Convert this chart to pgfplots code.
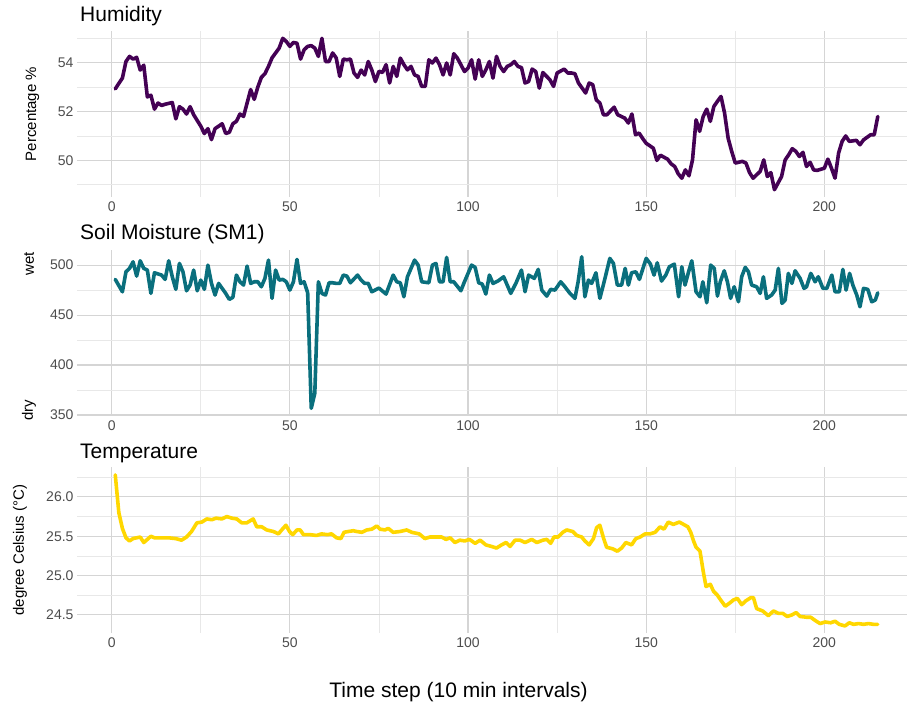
\documentclass[border=0pt]{standalone}
\usepackage{fontspec}
\setmainfont{Liberation Sans}
\usepackage{pgfplots}
\pgfplotsset{compat=1.18}
\usepackage{pgfplotstable}

\definecolor{humcol}{HTML}{440154}
\definecolor{smcol}{HTML}{0A6F7D}
\definecolor{tempcol}{HTML}{FFD700}
\definecolor{gridmaj}{HTML}{D5D5D5}
\definecolor{gridmin}{HTML}{E8E8E8}
\definecolor{tickgray}{HTML}{4D4D4D}

\newcommand{\ticksize}{\fontsize{14bp}{16bp}\selectfont}
\newcommand{\labsize}{\fontsize{15bp}{17bp}\selectfont}
\newcommand{\titlesize}{\fontsize{21bp}{24bp}\selectfont}

% humidity (%)
\pgfplotstableread{
t h
1 52.93
3 53.37
4 54.05
5 54.26
6 54.15
7 54.22
8 53.70
9 53.90
10 52.60
11 52.67
12 52.10
13 52.35
14 52.25
15 52.30
17 52.37
18 51.70
19 52.20
20 52.10
21 51.90
22 52.20
23 51.87
25 51.40
26 51.10
27 51.30
28 50.85
29 51.30
30 51.40
31 51.50
32 51.10
33 51.15
34 51.50
35 51.60
36 51.90
37 51.80
38 52.35
39 52.90
40 52.50
41 53.00
42 53.40
43 53.55
44 53.85
45 54.20
46 54.40
47 54.60
48 55.00
49 54.87
50 54.67
51 54.83
52 54.80
53 54.15
54 54.53
55 54.67
56 54.70
57 54.60
58 54.26
59 55.00
60 54.05
61 54.05
62 54.40
63 54.20
64 53.44
65 54.15
66 54.12
67 54.15
68 53.58
69 53.40
70 53.70
71 53.50
72 54.05
73 53.70
74 53.23
75 53.65
76 53.60
77 53.92
78 53.17
79 53.85
80 53.44
81 54.19
82 53.92
83 53.71
84 53.85
85 53.50
86 53.44
87 53.03
88 53.03
89 54.12
90 53.99
91 54.19
92 53.92
93 53.50
94 53.99
95 53.50
96 54.37
97 54.19
98 53.92
99 53.64
100 53.78
101 54.12
102 53.33
103 54.12
104 53.44
105 53.71
106 54.05
107 53.37
108 54.26
109 53.85
110 53.64
111 53.85
112 53.92
113 54.05
114 53.85
115 53.80
116 53.17
117 53.23
118 53.74
119 53.64
120 52.96
121 53.60
122 53.45
123 53.30
124 53.03
125 53.58
127 53.74
128 53.58
129 53.58
130 53.55
131 53.17
133 52.76
134 53.17
135 53.10
136 52.48
137 52.35
138 51.87
139 51.87
141 52.18
142 51.87
144 51.73
145 51.53
146 51.90
147 51.05
148 51.12
149 50.90
150 50.70
152 50.50
153 50.00
154 50.21
156 50.05
157 49.86
158 49.75
159 49.45
160 49.27
161 49.61
162 49.37
163 50.02
164 51.66
165 51.19
166 51.80
167 52.10
168 51.60
169 52.21
170 52.42
171 52.62
172 51.94
173 50.91
174 50.37
175 49.89
177 49.96
178 49.89
179 49.50
180 49.27
181 49.41
182 49.55
183 50.02
184 49.34
185 49.50
186 48.80
187 49.07
188 49.34
189 50.02
190 50.23
191 50.48
192 50.37
193 50.16
194 50.33
195 49.75
196 49.92
197 49.61
198 49.59
200 49.68
201 50.05
202 49.68
203 49.27
204 50.30
205 50.78
206 51.00
207 50.78
209 50.82
210 50.64
211 50.84
213 51.05
214 51.05
215 51.80
}\humtab

% soil moisture (SM1)
\pgfplotstableread{
t s
1 485.7
3 473.3
4 493.3
5 496.7
6 503.3
7 489.0
8 504.3
9 496.7
10 495.0
11 471.7
12 492.3
14 490.0
15 485.7
16 504.3
17 488.3
18 475.7
19 501.7
20 493.3
21 474.3
22 480.0
23 495.0
24 474.3
25 485.0
26 475.7
27 500.0
28 481.7
29 470.0
30 481.7
31 476.7
32 471.7
33 465.7
34 467.7
35 490.0
36 483.3
37 480.0
38 499.0
39 481.7
40 483.3
41 483.3
42 478.3
43 486.7
44 505.0
45 466.7
46 495.0
47 485.0
48 485.7
49 483.3
50 475.0
51 483.3
52 505.7
53 481.7
54 483.3
55 472.3
56 356.7
57 371.7
58 483.3
59 471.7
60 470.0
61 482.3
62 482.3
63 481.7
64 481.7
65 490.0
66 489.0
67 482.3
69 490.0
70 485.0
71 481.7
72 481.7
73 473.3
75 477.0
77 471.0
79 490.0
80 483.3
81 482.3
82 468.3
83 488.3
85 505.0
86 500.0
87 483.3
89 482.3
90 500.0
91 501.7
92 483.3
93 483.3
94 507.7
95 483.3
96 483.3
98 474.3
99 483.3
101 500.0
102 497.7
103 482.3
104 481.0
105 471.0
106 490.0
107 481.7
108.5 484.3
110 488.3
112 471.7
113.5 482.3
115 495.0
116 473.3
117 490.0
118.6 486.7
119.7 495.7
120.7 475.0
122.1 469.0
123.2 475.7
124.4 475.0
126 483.3
127.2 478.3
128.6 471.7
130 466.7
130.9 483.3
131.9 508.3
132.8 468.3
133.8 485.0
134.7 481.7
135.9 492.3
137 466.7
138.2 483.3
139.8 506.7
140.8 501.7
141.9 480.0
143.1 480.0
144.1 496.7
145 480.0
145.9 492.3
147.1 493.3
148.1 485.7
150 506.7
151.2 501.0
152.2 490.0
153.1 502.3
154.3 484.0
155.5 490.0
156.5 498.3
157.9 501.0
159.1 468.3
160 498.3
160.9 480.0
161.9 493.3
162.8 504.3
164 473.3
165.1 468.3
165.9 483.3
167 462.3
168.1 500.0
169.1 496.7
170 469.0
170.8 483.3
171.9 494.3
172.8 483.3
173.7 466.7
174.7 478.3
175.9 463.3
176.8 488.3
177.8 497.7
178.7 493.3
179.6 480.0
181 478.3
182 471.7
182.9 488.3
183.8 466.7
185.2 470.0
186.2 475.0
187.1 496.7
188.1 461.7
189 465.0
189.9 491.7
190.9 481.7
191.8 494.3
193.2 486.7
194.3 476.7
195 478.3
196.2 491.7
197.4 483.3
198.3 488.3
199.6 476.7
200.7 476.7
202.1 490.0
203 473.3
204.2 473.3
205.2 495.7
206.1 475.0
207.1 491.7
208 480.0
209.1 470.0
210 458.3
211 476.7
212.2 475.7
213.3 463.3
214.3 465.0
215 472.3
}\smtab

% temperature (degree Celsius)
\pgfplotstableread{
t c
1 26.28
2 25.80
3 25.60
4 25.48
5 25.44
6 25.47
7 25.48
8 25.49
9 25.42
11 25.50
12 25.48
14 25.48
16 25.48
18 25.47
19.6 25.45
21 25.49
22.4 25.56
23.9 25.67
25.3 25.68
26.7 25.72
28.1 25.71
29.3 25.73
30.9 25.72
32.3 25.75
33.7 25.73
35.1 25.72
36.5 25.67
37.9 25.67
39.7 25.72
40.7 25.62
42.1 25.62
43.5 25.58
45.4 25.56
46.8 25.53
47.7 25.58
48.9 25.64
49.9 25.56
50.8 25.52
52 25.58
52.9 25.58
53.8 25.52
55.7 25.52
57.5 25.51
58.9 25.53
60.5 25.52
61.7 25.53
63.1 25.48
64.3 25.47
65.2 25.55
66.4 25.56
67.8 25.57
68.8 25.56
70.2 25.55
71.6 25.58
73 25.59
74.4 25.63
75.3 25.59
76.7 25.58
77.6 25.60
79 25.55
80.9 25.56
82.8 25.58
84.2 25.55
86.3 25.53
87.9 25.47
89.3 25.49
91.2 25.49
92.6 25.49
93.8 25.46
95 25.48
96.3 25.42
97.7 25.45
99.1 25.44
100.4 25.46
102 25.41
103.4 25.45
105 25.39
106.6 25.37
108 25.35
109.4 25.39
110.7 25.42
111.8 25.37
113.2 25.45
114.6 25.45
116 25.42
117.9 25.46
119.3 25.42
121 25.45
122.1 25.46
123.2 25.41
124.1 25.49
125.3 25.49
126.6 25.55
127.7 25.58
129.4 25.56
130.5 25.51
131.9 25.49
132.8 25.44
134 25.39
135.2 25.47
136.1 25.61
137 25.64
138 25.48
138.9 25.36
140.6 25.34
141.9 25.31
143.1 25.35
144.3 25.42
145.9 25.39
147.1 25.47
148.3 25.49
149.7 25.53
151.1 25.53
152.5 25.55
153.9 25.62
155 25.59
156.2 25.68
157.6 25.65
159.3 25.68
160.5 25.65
161.7 25.62
162.5 25.55
163.3 25.44
164 25.36
165.1 25.31
166.1 25.03
166.8 24.86
168 24.89
168.9 24.80
170 24.75
170.9 24.69
172.2 24.61
173.4 24.65
174.5 24.69
175.6 24.71
176.8 24.63
178 24.68
179.4 24.72
180.1 24.72
181 24.58
182.7 24.55
184.3 24.49
185.7 24.55
187.1 24.52
188.3 24.52
189.6 24.48
190.9 24.50
192.1 24.53
193.2 24.48
195.1 24.47
196.2 24.47
197.4 24.43
198.8 24.39
200.2 24.41
201.8 24.40
203 24.42
204.2 24.38
205.8 24.36
207 24.40
208.2 24.38
209.6 24.39
211 24.38
212.4 24.39
213.8 24.38
215 24.38
}\temptab

\pgfplotsset{
  panel/.style={
    scale only axis,
    width=830bp, height=166bp,
    anchor=north west,
    xmin=-9.74, xmax=223.2,
    axis line style={draw=none},
    major tick length=0pt, minor tick length=0pt,
    xtick={0,50,...,200},
    minor xtick={25,75,125,175},
    grid=both,
    major grid style={color=gridmaj, line width=1.1bp},
    minor grid style={color=gridmin, line width=0.8bp},
    tick label style={font=\ticksize, text=tickgray},
    xticklabel style={yshift=-1.5bp},
    /pgf/number format/assume math mode=true,
    ylabel style={font=\labsize, at={(axis description cs:0,0.5)}, anchor=center},
    title style={font=\titlesize, at={(axis description cs:0,1)}, anchor=base west, inner sep=0pt, xshift=3bp},
    clip mode=individual,
  },
  series/.style={line width=3.6bp, line join=round, line cap=round},
}

\begin{document}
\begin{tikzpicture}
\useasboundingbox (0,0) rectangle (907bp,-703bp);

\begin{axis}[panel, at={(77bp,-31bp)},
    ymin=48.5, ymax=55.3,
    ytick={50,52,54}, minor ytick={49,51,53,55},
    title={Humidity}, title style={yshift=4bp},
    ylabel={Percentage \%}, ylabel style={yshift=44.5bp}]
\addplot[series, color=humcol] table[x=t, y=h] {\humtab};
\end{axis}

\begin{axis}[panel, at={(77bp,-249.5bp)},
    ymin=349.5, ymax=515.6,
    ytick={350,400,450,500}, minor ytick={375,425,475},
    title={Soil Moisture (SM1)}, title style={yshift=4.5bp}]
\addplot[series, color=smcol] table[x=t, y=s] {\smtab};
\node[rotate=90, font=\labsize, anchor=center, yshift=48bp] at (axis description cs:0,0.915) {wet};
\node[rotate=90, font=\labsize, anchor=center, yshift=48bp] at (axis description cs:0,0.03) {dry};
\end{axis}

\begin{axis}[panel, at={(77bp,-467bp)},
    ymin=24.27, ymax=26.38,
    ytick={24.5,25,25.5,26}, minor ytick={24.75,25.25,25.75,26.25},
    yticklabel style={/pgf/number format/.cd, fixed, fixed zerofill, precision=1},
    title={Temperature}, title style={yshift=3bp},
    ylabel={degree Celsius (°C)}, ylabel style={yshift=57bp}]
\addplot[series, color=tempcol] table[x=t, y=c] {\temptab};
\end{axis}

\node[anchor=base, font=\titlesize, inner sep=0pt] at (458.5bp,-697bp) {Time step (10 min intervals)};
\end{tikzpicture}
\end{document}
